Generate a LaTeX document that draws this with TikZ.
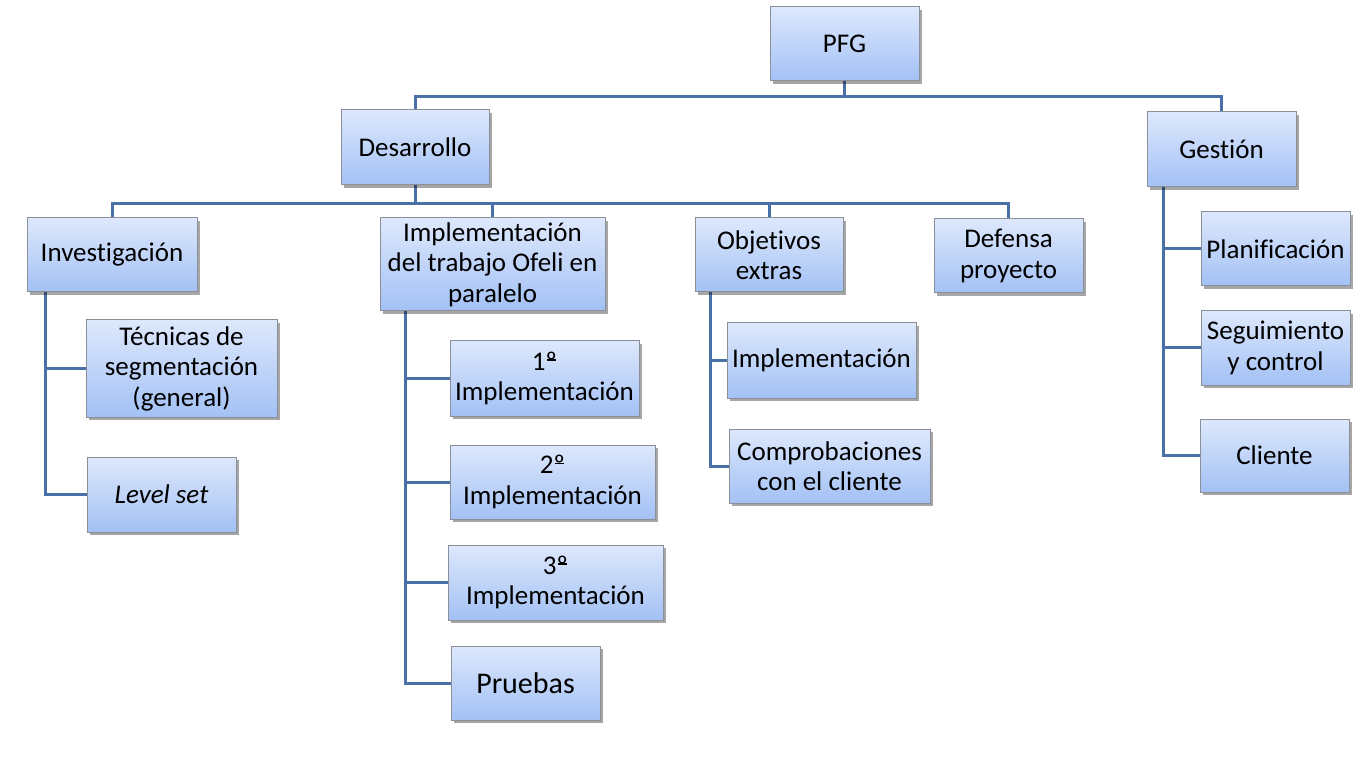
\documentclass[tikz,border=0pt]{standalone}
\usepackage{fontspec}
\setmainfont{Carlito}[Ligatures={NoCommon}]
\usetikzlibrary{shadows,backgrounds}
\definecolor{conncol}{HTML}{4A70A8}
\definecolor{boxtop}{HTML}{DDE8FC}
\definecolor{boxbot}{HTML}{A3C1F5}
\definecolor{boxline}{HTML}{8A8F99}
\newcommand{\ordmark}{\setbox0\hbox{º}\rlap{\kern0.04em\rule[0.36em]{\dimexpr\wd0-0.08em\relax}{0.05em}}º}
\tikzset{
  box/.style={rectangle, draw=boxline, line width=1pt, top color=boxtop, bottom color=boxbot,
    align=center, inner sep=0pt, font=\fontsize{27}{30.5}\selectfont,
    drop shadow={shadow xshift=2.5pt, shadow yshift=-3pt, opacity=.35, fill=black}},
  conn/.style={draw=conncol, line width=3pt, line join=miter}
}
\begin{document}
\begin{tikzpicture}[x=1pt,y=-1pt]
\useasboundingbox (0,0) rectangle (1362,775);
% nodes
\node[box, minimum width=149pt, minimum height=74pt] (pfg) at (844.5,44) {PFG};
\node[box, minimum width=148pt, minimum height=75pt] (des) at (415,147.5) {Desarrollo};
\node[box, minimum width=149pt, minimum height=75pt] (ges) at (1221.5,149.5) {Gestión};
\node[box, minimum width=170pt, minimum height=74pt] (inv) at (112,255) {Investigación};
\node[box, minimum width=225pt, minimum height=93pt] (imp) at (492.5,264.5) {Implementación\\del trabajo Ofeli en\\paralelo};
\node[box, minimum width=148pt, minimum height=74pt] (obj) at (769,255) {Objetivos\\extras};
\node[box, minimum width=149pt, minimum height=74pt] (def) at (1008.5,256) {Defensa\\proyecto};
\node[box, minimum width=191pt, minimum height=97pt] (tec) at (181.5,368.5) {Técnicas de\\segmentación\\(general)};
\node[box, minimum width=149pt, minimum height=75pt] (lvl) at (161.5,494.5) {\itshape Level set};
\node[box, minimum width=189pt, minimum height=75pt] (im1) at (544.5,378.5) {1\ordmark\\Implementación};
\node[box, minimum width=205pt, minimum height=74pt] (im2) at (552.5,482) {2\ordmark\\Implementación};
\node[box, minimum width=215pt, minimum height=75pt] (im3) at (555.5,582.5) {3\ordmark\\Implementación};
\node[box, minimum width=149pt, minimum height=74pt, font=\fontsize{30}{33}\selectfont] (pru) at (525.5,683) {Pruebas};
\node[box, minimum width=189pt, minimum height=75pt] (oim) at (821.5,360.5) {Implementación};
\node[box, minimum width=201pt, minimum height=74pt] (com) at (829.5,466) {Comprobaciones\\con el cliente};
\node[box, minimum width=149pt, minimum height=74pt] (pla) at (1275.5,249) {Planificación};
\node[box, minimum width=149pt, minimum height=74pt] (seg) at (1275.5,348) {Seguimiento\\y control};
\node[box, minimum width=149pt, minimum height=73pt] (cli) at (1274.5,455.5) {Cliente};
% helper coordinates
\coordinate (bus1) at (0,97);
\coordinate (bus2) at (0,204);
\coordinate (invx) at (45,0);
\coordinate (impx) at (405,0);
\coordinate (objx) at (710,0);
\coordinate (gesx) at (1163,0);
% connectors
\begin{scope}[on background layer]
\draw[conn] (pfg.south) -- (pfg.south |- bus1) -| (des.north);
\draw[conn] (pfg.south |- bus1) -| (ges.north);
\draw[conn] (des.south) -- (des.south |- bus2) -| (inv.north);
\draw[conn] (des.south |- bus2) -| (imp.north);
\draw[conn] (des.south |- bus2) -| (obj.north);
\draw[conn] (des.south |- bus2) -| (def.north);
\draw[conn] (inv.south -| invx) |- (tec.west);
\draw[conn] (inv.south -| invx) |- (lvl.west);
\draw[conn] (imp.south -| impx) |- (im1.west);
\draw[conn] (imp.south -| impx) |- (im2.west);
\draw[conn] (imp.south -| impx) |- (im3.west);
\draw[conn] (imp.south -| impx) |- (pru.west);
\draw[conn] (obj.south -| objx) |- (oim.west);
\draw[conn] (obj.south -| objx) |- (com.west);
\draw[conn] (ges.south -| gesx) |- (pla.west);
\draw[conn] (ges.south -| gesx) |- (seg.west);
\draw[conn] (ges.south -| gesx) |- (cli.west);
\end{scope}
\end{tikzpicture}
\end{document}
